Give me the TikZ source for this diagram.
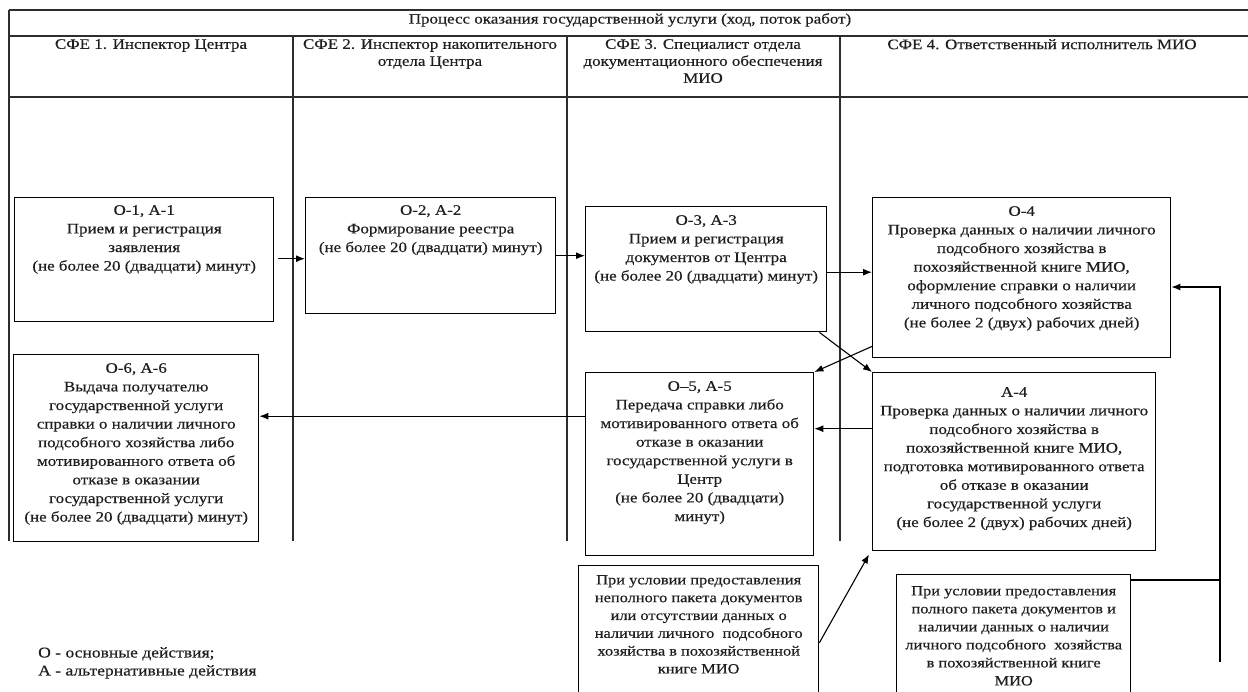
\documentclass[tikz,border=0pt]{standalone}
\usepackage{fontspec}
\setmainfont{Liberation Serif}[FakeStretch=1.17,FakeBold=0.4]
\usetikzlibrary{arrows.meta,calc}
\definecolor{txt}{RGB}{30,30,30}
\definecolor{tbl}{RGB}{45,45,45}
\begin{document}
\begin{tikzpicture}[x=1pt,y=-1pt,
  tline/.style={draw=tbl,line width=1.5pt},
  boxst/.style={draw=black,line width=1.4pt,rectangle,inner sep=0pt,anchor=north west},
  txtst/.style={align=center,inner sep=0pt,anchor=north,text=txt,font=\fontsize{14.5}{18.6}\selectfont},
  hdr/.style={align=center,inner sep=0pt,anchor=north,text=txt,font=\fontsize{14.5}{17}\selectfont},
  arr/.style={draw=black,line width=1.1pt,-{Latex[length=9pt,width=7pt]}},
  plain/.style={draw=black,line width=1.1pt}]
\useasboundingbox (0,0) rectangle (1248,691);
% table
\draw[tline] (9,10) -- (1248,10);
\draw[tline] (9,36) -- (1248,36);
\draw[tline] (9,97) -- (1248,97);
\draw[tline] (9,10) -- (9,541);
\draw[tline] (293,36) -- (293,541);
\draw[tline] (567,36) -- (567,541);
\draw[tline] (840,36) -- (840,541);
\node[hdr] (title) at (630,13) {Процесс оказания государственной услуги (ход, поток работ)};
\node[hdr] (h1) at (151,39) {СФЕ 1. Инспектор Центра};
\node[hdr] (h2) at (430,39) {СФЕ 2. Инспектор накопительного\\отдела Центра};
\node[hdr] (h3) at (703,39) {СФЕ 3. Специалист отдела\\документационного обеспечения\\МИО};
\node[hdr] (h4) at (1042,39) {СФЕ 4. Ответственный исполнитель МИО};
% boxes
\node[boxst,minimum width=259pt,minimum height=124pt] (o1) at (14,197) {};
\node[boxst,minimum width=250pt,minimum height=116pt] (o2) at (305,197) {};
\node[boxst,minimum width=241pt,minimum height=125pt] (o3) at (585,206) {};
\node[boxst,minimum width=298pt,minimum height=160pt] (o4) at (872,197) {};
\node[boxst,minimum width=245pt,minimum height=187pt] (o6) at (13,354) {};
\node[boxst,minimum width=228pt,minimum height=183pt] (o5) at (585,372) {};
\node[boxst,minimum width=283pt,minimum height=178pt] (a4) at (872,372) {};
\node[boxst,minimum width=240pt,minimum height=130pt] (b1) at (578,565) {};
\node[boxst,minimum width=234pt,minimum height=122pt] (b2) at (896,574) {};
% texts
\node[txtst] (o1t) at ($(o1.north)+(0,8)$) {О-1, А-1\\Прием и регистрация\\заявления\\(не более 20 (двадцати) минут)};
\node[txtst] (o2t) at ($(o2.north)+(0,8)$) {О-2, А-2\\Формирование реестра\\(не более 20 (двадцати) минут)};
\node[txtst] (o3t) at ($(o3.north)+(0,9)$) {О-3, А-3\\Прием и регистрация\\документов от Центра\\(не более 20 (двадцати) минут)};
\node[txtst] (o4t) at ($(o4.north)+(0,9)$) {О-4\\Проверка данных о наличии личного\\подсобного хозяйства в\\похозяйственной книге МИО,\\оформление справки о наличии\\личного подсобного хозяйства\\(не более 2 (двух) рабочих дней)};
\node[txtst] (o6t) at ($(o6.north)+(0,9)$) {О-6, А-6\\Выдача получателю\\государственной услуги\\справки о наличии личного\\подсобного хозяйства либо\\мотивированного ответа об\\отказе в оказании\\государственной услуги\\(не более 20 (двадцати) минут)};
\node[txtst] (o5t) at ($(o5.north)+(0,9)$) {О–5, А-5\\Передача справки либо\\мотивированного ответа об\\отказе в оказании\\государственной услуги в\\Центр\\(не более 20 (двадцати)\\минут)};
\node[txtst] (a4t) at ($(a4.north)+(0,15)$) {А-4\\Проверка данных о наличии личного\\подсобного хозяйства в\\похозяйственной книге МИО,\\подготовка мотивированного ответа\\об отказе в оказании\\государственной услуги\\(не более 2 (двух) рабочих дней)};
\node[txtst,font=\fontsize{14}{17.8}\selectfont] (b1t) at ($(b1.north)+(0,10)$) {При условии предоставления\\неполного пакета документов\\или отсутствии данных о\\наличии личного\ \ подсобного\\хозяйства в похозяйственной\\книге МИО};
\node[txtst,font=\fontsize{14}{18}\selectfont] (b2t) at ($(b2.north)+(0,12)$) {При условии предоставления\\полного пакета документов и\\наличии данных о наличии\\личного подсобного\ \ хозяйства\\в похозяйственной книге\\МИО};
\node[anchor=north west,align=left,inner sep=0pt,text=txt,font=\fontsize{15}{18}\selectfont] (legend) at (38,647) {О - основные действия;\\А - альтернативные действия};
% arrows
\draw[arr] ($(o1.east)+(4,-1)$) -- ($(o1.east -| o2.west)+(0,-1)$);
\draw[arr] (o2.east) -- (o2.east -| o3.west);
\draw[arr] ($(o3.east)+(0,3)$) -- ($(o3.east -| o4.west)+(0,3)$);
\draw[arr] ($(o3.south east)+(-8,0)$) -- (a4.north west);
\draw[arr] ($(o4.south west)+(0,-12)$) -- (o5.north east);
\draw[arr] ($(a4.west)+(0,-33)$) -- ($(a4.west -| o5.east)+(0,-33)$);
\draw[arr] ($(o5.west)+(0,-48)$) -- ($(o5.west -| o6.east)+(0,-48)$);
\draw[arr] ($(b1.east)+(0,12)$) -- ($(a4.south west)+(-3,3)$);
\coordinate (rtop) at (1220,287);
\coordinate (rbot) at (1220,662);
\coordinate (rj) at (1220,580);
\draw[plain] (b2.east |- rj) -- (rj);
\draw[arr] (rbot) -- (rtop) -- (rtop -| o4.east);
\end{tikzpicture}
\end{document}
